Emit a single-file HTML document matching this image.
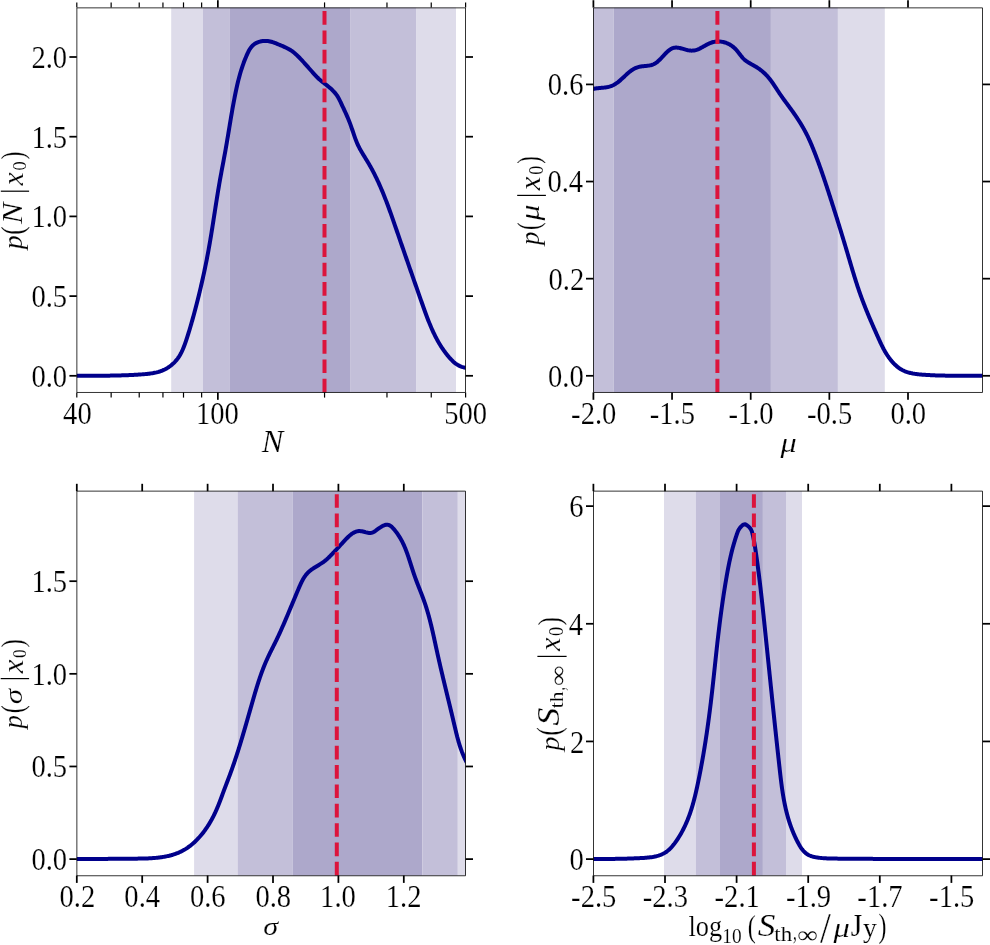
<!DOCTYPE html><html><head><meta charset="utf-8"><style>html,body{margin:0;padding:0;background:#fff;}svg{display:block;}text{font-family:"Liberation Serif",serif;fill:#000;stroke:#fff;stroke-width:0.6;}#fig{will-change:transform;}</style></head><body>
<svg id="fig" width="990" height="945" viewBox="0 0 990 945">
<rect width="990" height="945" fill="#fff"/>
<rect x="171.20" y="7.60" width="31.70" height="384.80" fill="#dedcea"/>
<rect x="202.90" y="7.60" width="27.00" height="384.80" fill="#c3bfd9"/>
<rect x="229.90" y="7.60" width="120.20" height="384.80" fill="#ada8cb"/>
<rect x="350.10" y="7.60" width="66.40" height="384.80" fill="#c3bfd9"/>
<rect x="416.50" y="7.60" width="39.50" height="384.80" fill="#dedcea"/>
<rect x="593.40" y="7.60" width="20.30" height="384.80" fill="#c3bfd9"/>
<rect x="613.70" y="7.60" width="157.20" height="384.80" fill="#ada8cb"/>
<rect x="770.90" y="7.60" width="67.00" height="384.80" fill="#c3bfd9"/>
<rect x="837.90" y="7.60" width="46.90" height="384.80" fill="#dedcea"/>
<rect x="194.10" y="491.20" width="43.50" height="384.30" fill="#dedcea"/>
<rect x="237.60" y="491.20" width="55.20" height="384.30" fill="#c3bfd9"/>
<rect x="292.80" y="491.20" width="129.60" height="384.30" fill="#ada8cb"/>
<rect x="422.40" y="491.20" width="35.40" height="384.30" fill="#c3bfd9"/>
<rect x="457.80" y="491.20" width="7.80" height="384.30" fill="#dedcea"/>
<rect x="664.00" y="491.20" width="31.80" height="384.30" fill="#dedcea"/>
<rect x="695.80" y="491.20" width="24.20" height="384.30" fill="#c3bfd9"/>
<rect x="720.00" y="491.20" width="42.90" height="384.30" fill="#ada8cb"/>
<rect x="762.90" y="491.20" width="23.10" height="384.30" fill="#c3bfd9"/>
<rect x="786.00" y="491.20" width="16.00" height="384.30" fill="#dedcea"/>
<clipPath id="c0"><rect x="76.80" y="7.60" width="388.80" height="384.80"/></clipPath>
<path d="M75.00,375.70 L76.09,375.70 L77.17,375.70 L78.25,375.70 L79.33,375.70 L80.40,375.70 L81.47,375.70 L82.54,375.70 L83.60,375.70 L84.67,375.70 L85.73,375.70 L86.78,375.70 L87.84,375.71 L88.89,375.71 L89.94,375.71 L90.99,375.71 L92.04,375.71 L93.08,375.71 L94.13,375.71 L95.17,375.71 L96.21,375.71 L97.25,375.71 L98.29,375.70 L99.32,375.70 L100.36,375.70 L101.39,375.69 L102.42,375.69 L103.45,375.68 L104.48,375.68 L105.51,375.67 L106.54,375.66 L107.57,375.65 L108.60,375.64 L109.63,375.63 L110.66,375.61 L111.68,375.60 L112.71,375.58 L113.74,375.56 L114.76,375.55 L115.79,375.53 L116.82,375.50 L117.84,375.48 L118.87,375.45 L119.90,375.43 L120.93,375.40 L121.96,375.37 L122.99,375.34 L124.02,375.30 L125.05,375.27 L126.09,375.23 L127.12,375.19 L128.15,375.14 L129.19,375.10 L130.23,375.05 L131.27,375.00 L132.31,374.95 L133.35,374.90 L134.40,374.84 L135.44,374.78 L136.49,374.72 L137.54,374.66 L138.59,374.59 L139.64,374.52 L140.70,374.45 L141.76,374.37 L142.82,374.29 L143.88,374.21 L144.95,374.12 L146.01,374.03 L147.08,373.92 L148.14,373.81 L149.20,373.68 L150.26,373.54 L151.32,373.39 L152.38,373.22 L153.44,373.04 L154.48,372.83 L155.53,372.61 L156.57,372.37 L157.61,372.10 L158.64,371.81 L159.66,371.49 L160.67,371.15 L161.68,370.77 L162.68,370.37 L163.67,369.94 L164.65,369.48 L165.62,368.98 L166.58,368.44 L167.53,367.87 L168.46,367.28 L169.38,366.65 L170.28,365.99 L171.17,365.30 L172.03,364.59 L172.87,363.85 L173.68,363.09 L174.47,362.31 L175.23,361.50 L175.96,360.68 L176.67,359.85 L177.34,358.99 L177.98,358.12 L178.59,357.24 L179.18,356.34 L179.74,355.43 L180.28,354.51 L180.79,353.58 L181.29,352.64 L181.76,351.69 L182.21,350.73 L182.65,349.76 L183.07,348.79 L183.48,347.81 L183.87,346.83 L184.25,345.84 L184.61,344.85 L184.97,343.85 L185.32,342.86 L185.67,341.86 L186.00,340.87 L186.34,339.87 L186.66,338.88 L186.99,337.88 L187.31,336.89 L187.63,335.90 L187.94,334.91 L188.25,333.92 L188.56,332.93 L188.87,331.95 L189.17,330.96 L189.47,329.97 L189.76,328.99 L190.06,328.00 L190.35,327.01 L190.64,326.03 L190.92,325.04 L191.21,324.06 L191.49,323.07 L191.77,322.08 L192.05,321.10 L192.33,320.11 L192.60,319.12 L192.88,318.14 L193.15,317.15 L193.42,316.16 L193.69,315.17 L193.96,314.18 L194.23,313.18 L194.49,312.19 L194.76,311.20 L195.02,310.20 L195.29,309.21 L195.55,308.21 L195.81,307.21 L196.07,306.21 L196.33,305.21 L196.59,304.21 L196.85,303.21 L197.10,302.21 L197.36,301.21 L197.61,300.20 L197.86,299.20 L198.11,298.19 L198.36,297.19 L198.61,296.18 L198.86,295.17 L199.11,294.17 L199.35,293.16 L199.60,292.15 L199.84,291.14 L200.08,290.13 L200.32,289.12 L200.56,288.10 L200.80,287.09 L201.04,286.08 L201.27,285.06 L201.51,284.05 L201.74,283.03 L201.97,282.02 L202.20,281.00 L202.43,279.98 L202.66,278.96 L202.88,277.95 L203.11,276.93 L203.33,275.91 L203.56,274.89 L203.78,273.87 L204.00,272.84 L204.22,271.82 L204.43,270.80 L204.65,269.78 L204.86,268.76 L205.08,267.73 L205.29,266.71 L205.50,265.68 L205.71,264.66 L205.91,263.63 L206.12,262.61 L206.33,261.58 L206.53,260.55 L206.73,259.53 L206.93,258.50 L207.13,257.47 L207.33,256.44 L207.52,255.42 L207.72,254.39 L207.91,253.36 L208.10,252.33 L208.29,251.30 L208.48,250.27 L208.67,249.24 L208.85,248.21 L209.04,247.18 L209.22,246.15 L209.40,245.12 L209.58,244.09 L209.76,243.06 L209.94,242.02 L210.12,240.99 L210.29,239.96 L210.47,238.93 L210.64,237.90 L210.81,236.86 L210.98,235.83 L211.15,234.80 L211.32,233.77 L211.49,232.73 L211.66,231.70 L211.82,230.67 L211.99,229.63 L212.16,228.60 L212.32,227.57 L212.49,226.53 L212.65,225.50 L212.81,224.47 L212.97,223.43 L213.14,222.40 L213.30,221.37 L213.46,220.33 L213.62,219.30 L213.78,218.27 L213.94,217.24 L214.10,216.20 L214.26,215.17 L214.42,214.14 L214.59,213.10 L214.75,212.07 L214.91,211.04 L215.07,210.01 L215.23,208.97 L215.39,207.94 L215.55,206.91 L215.71,205.88 L215.87,204.85 L216.03,203.82 L216.19,202.79 L216.36,201.76 L216.52,200.72 L216.68,199.69 L216.85,198.66 L217.01,197.63 L217.18,196.60 L217.34,195.58 L217.51,194.55 L217.68,193.52 L217.84,192.49 L218.01,191.46 L218.18,190.43 L218.35,189.41 L218.53,188.38 L218.70,187.35 L218.87,186.33 L219.05,185.30 L219.22,184.28 L219.40,183.25 L219.58,182.23 L219.76,181.20 L219.94,180.18 L220.12,179.16 L220.30,178.13 L220.49,177.11 L220.67,176.09 L220.86,175.07 L221.05,174.05 L221.24,173.03 L221.43,172.00 L221.62,170.98 L221.81,169.96 L222.00,168.94 L222.19,167.92 L222.38,166.90 L222.58,165.88 L222.77,164.86 L222.96,163.84 L223.15,162.82 L223.35,161.80 L223.54,160.77 L223.73,159.75 L223.92,158.73 L224.11,157.71 L224.30,156.68 L224.49,155.66 L224.68,154.63 L224.87,153.61 L225.06,152.58 L225.24,151.55 L225.43,150.53 L225.61,149.50 L225.79,148.47 L225.97,147.44 L226.16,146.41 L226.33,145.38 L226.51,144.34 L226.69,143.31 L226.87,142.28 L227.04,141.25 L227.22,140.21 L227.39,139.18 L227.56,138.14 L227.74,137.11 L227.91,136.07 L228.08,135.04 L228.25,134.00 L228.43,132.96 L228.60,131.93 L228.77,130.89 L228.94,129.86 L229.11,128.82 L229.28,127.79 L229.45,126.75 L229.62,125.71 L229.79,124.68 L229.96,123.64 L230.13,122.61 L230.31,121.58 L230.48,120.54 L230.65,119.51 L230.82,118.48 L231.00,117.45 L231.17,116.41 L231.35,115.38 L231.52,114.35 L231.70,113.33 L231.88,112.30 L232.06,111.27 L232.24,110.24 L232.42,109.22 L232.60,108.19 L232.78,107.17 L232.97,106.15 L233.15,105.13 L233.34,104.11 L233.53,103.09 L233.72,102.07 L233.91,101.06 L234.10,100.04 L234.30,99.03 L234.49,98.02 L234.69,97.01 L234.89,96.00 L235.09,94.99 L235.30,93.99 L235.50,92.99 L235.71,91.98 L235.92,90.98 L236.14,89.99 L236.35,88.99 L236.57,88.00 L236.79,87.00 L237.01,86.02 L237.23,85.03 L237.46,84.04 L237.69,83.06 L237.93,82.07 L238.17,81.09 L238.41,80.11 L238.66,79.12 L238.91,78.14 L239.17,77.16 L239.44,76.18 L239.71,75.20 L239.98,74.21 L240.26,73.23 L240.55,72.25 L240.85,71.26 L241.15,70.28 L241.46,69.29 L241.78,68.30 L242.11,67.30 L242.44,66.31 L242.78,65.31 L243.14,64.31 L243.50,63.31 L243.87,62.31 L244.25,61.30 L244.64,60.28 L245.04,59.27 L245.46,58.25 L245.88,57.22 L246.31,56.20 L246.76,55.16 L247.22,54.12 L247.69,53.09 L248.19,52.05 L248.71,51.03 L249.26,50.03 L249.85,49.05 L250.49,48.10 L251.17,47.19 L251.90,46.31 L252.70,45.49 L253.56,44.73 L254.49,44.02 L255.49,43.38 L256.58,42.82 L257.72,42.33 L258.92,41.91 L260.16,41.56 L261.43,41.29 L262.71,41.09 L264.00,40.97 L265.28,40.92 L266.53,40.95 L267.76,41.05 L268.95,41.21 L270.11,41.44 L271.25,41.72 L272.36,42.04 L273.45,42.40 L274.53,42.79 L275.59,43.21 L276.63,43.63 L277.67,44.06 L278.70,44.49 L279.72,44.91 L280.74,45.33 L281.75,45.76 L282.75,46.19 L283.74,46.62 L284.72,47.06 L285.69,47.52 L286.65,47.99 L287.60,48.47 L288.54,48.97 L289.47,49.50 L290.38,50.05 L291.28,50.62 L292.16,51.23 L293.03,51.86 L293.89,52.53 L294.73,53.22 L295.55,53.93 L296.37,54.67 L297.17,55.43 L297.96,56.19 L298.74,56.97 L299.50,57.76 L300.26,58.56 L301.01,59.36 L301.74,60.15 L302.47,60.94 L303.19,61.74 L303.90,62.52 L304.61,63.31 L305.31,64.09 L306.01,64.87 L306.70,65.65 L307.38,66.43 L308.07,67.20 L308.75,67.97 L309.43,68.74 L310.11,69.51 L310.78,70.27 L311.46,71.03 L312.14,71.79 L312.82,72.54 L313.51,73.30 L314.19,74.05 L314.89,74.79 L315.58,75.54 L316.28,76.28 L316.99,77.02 L317.71,77.75 L318.44,78.48 L319.19,79.19 L319.96,79.88 L320.75,80.56 L321.56,81.23 L322.39,81.88 L323.23,82.53 L324.08,83.17 L324.93,83.82 L325.78,84.47 L326.63,85.14 L327.48,85.81 L328.31,86.48 L329.14,87.17 L329.96,87.87 L330.76,88.59 L331.55,89.31 L332.33,90.05 L333.08,90.81 L333.82,91.58 L334.53,92.37 L335.22,93.17 L335.88,94.00 L336.51,94.84 L337.11,95.70 L337.68,96.59 L338.22,97.49 L338.74,98.41 L339.23,99.35 L339.70,100.29 L340.16,101.25 L340.62,102.21 L341.07,103.17 L341.51,104.13 L341.96,105.09 L342.41,106.05 L342.86,107.01 L343.31,107.96 L343.76,108.92 L344.21,109.88 L344.65,110.83 L345.09,111.79 L345.53,112.74 L345.97,113.70 L346.40,114.66 L346.83,115.62 L347.25,116.58 L347.67,117.54 L348.08,118.50 L348.48,119.47 L348.88,120.44 L349.27,121.41 L349.65,122.38 L350.02,123.36 L350.39,124.34 L350.74,125.32 L351.09,126.30 L351.43,127.29 L351.77,128.28 L352.11,129.26 L352.44,130.25 L352.77,131.24 L353.10,132.23 L353.43,133.22 L353.76,134.21 L354.10,135.19 L354.44,136.18 L354.78,137.16 L355.13,138.13 L355.49,139.11 L355.86,140.08 L356.24,141.04 L356.63,142.00 L357.03,142.96 L357.44,143.91 L357.87,144.85 L358.32,145.78 L358.78,146.71 L359.25,147.64 L359.73,148.56 L360.23,149.47 L360.74,150.38 L361.25,151.28 L361.78,152.19 L362.31,153.09 L362.84,153.98 L363.39,154.88 L363.93,155.77 L364.48,156.66 L365.03,157.56 L365.58,158.45 L366.13,159.34 L366.68,160.23 L367.23,161.13 L367.77,162.03 L368.31,162.93 L368.84,163.83 L369.37,164.74 L369.89,165.65 L370.40,166.56 L370.91,167.48 L371.42,168.39 L371.92,169.31 L372.42,170.24 L372.91,171.16 L373.39,172.09 L373.88,173.02 L374.35,173.95 L374.83,174.89 L375.29,175.83 L375.76,176.77 L376.21,177.71 L376.67,178.65 L377.12,179.60 L377.57,180.55 L378.01,181.50 L378.45,182.45 L378.88,183.41 L379.31,184.36 L379.74,185.32 L380.16,186.28 L380.58,187.24 L381.00,188.21 L381.41,189.17 L381.82,190.14 L382.23,191.11 L382.63,192.08 L383.03,193.05 L383.42,194.02 L383.82,194.99 L384.21,195.97 L384.60,196.94 L384.98,197.92 L385.37,198.90 L385.75,199.88 L386.12,200.86 L386.50,201.84 L386.87,202.82 L387.24,203.81 L387.61,204.79 L387.98,205.78 L388.34,206.76 L388.71,207.75 L389.07,208.73 L389.43,209.72 L389.78,210.71 L390.14,211.70 L390.49,212.69 L390.85,213.68 L391.20,214.67 L391.55,215.66 L391.90,216.65 L392.24,217.64 L392.59,218.63 L392.94,219.62 L393.28,220.61 L393.62,221.60 L393.97,222.59 L394.31,223.58 L394.65,224.57 L394.99,225.56 L395.33,226.55 L395.68,227.54 L396.02,228.53 L396.36,229.51 L396.70,230.50 L397.04,231.49 L397.38,232.48 L397.72,233.46 L398.06,234.45 L398.39,235.43 L398.73,236.42 L399.07,237.40 L399.41,238.39 L399.75,239.37 L400.09,240.35 L400.43,241.34 L400.77,242.32 L401.11,243.30 L401.45,244.28 L401.79,245.27 L402.13,246.25 L402.47,247.23 L402.81,248.21 L403.15,249.19 L403.49,250.17 L403.83,251.15 L404.17,252.13 L404.51,253.11 L404.85,254.09 L405.19,255.07 L405.53,256.05 L405.87,257.03 L406.21,258.01 L406.55,258.99 L406.89,259.97 L407.23,260.95 L407.57,261.93 L407.91,262.91 L408.25,263.89 L408.59,264.87 L408.93,265.85 L409.27,266.83 L409.62,267.81 L409.96,268.79 L410.30,269.77 L410.64,270.75 L410.98,271.73 L411.32,272.71 L411.67,273.69 L412.01,274.67 L412.35,275.65 L412.69,276.63 L413.04,277.61 L413.38,278.59 L413.72,279.58 L414.07,280.56 L414.41,281.54 L414.75,282.52 L415.10,283.51 L415.44,284.49 L415.79,285.48 L416.13,286.46 L416.48,287.45 L416.82,288.43 L417.17,289.42 L417.52,290.40 L417.86,291.39 L418.21,292.38 L418.55,293.37 L418.90,294.35 L419.25,295.34 L419.60,296.33 L419.94,297.32 L420.29,298.31 L420.64,299.31 L420.99,300.30 L421.34,301.29 L421.69,302.28 L422.04,303.28 L422.39,304.27 L422.74,305.27 L423.09,306.26 L423.44,307.26 L423.80,308.26 L424.15,309.25 L424.51,310.25 L424.87,311.24 L425.23,312.24 L425.59,313.23 L425.96,314.23 L426.33,315.22 L426.70,316.21 L427.07,317.20 L427.45,318.19 L427.83,319.18 L428.21,320.17 L428.60,321.15 L428.99,322.14 L429.38,323.12 L429.78,324.10 L430.19,325.07 L430.59,326.05 L431.01,327.02 L431.43,327.99 L431.85,328.95 L432.28,329.92 L432.72,330.88 L433.16,331.84 L433.60,332.79 L434.06,333.74 L434.52,334.69 L434.98,335.63 L435.46,336.57 L435.94,337.50 L436.43,338.43 L436.92,339.36 L437.42,340.28 L437.94,341.20 L438.45,342.11 L438.98,343.02 L439.52,343.92 L440.06,344.82 L440.61,345.71 L441.18,346.60 L441.75,347.48 L442.33,348.36 L442.92,349.23 L443.52,350.09 L444.13,350.95 L444.75,351.80 L445.38,352.65 L446.02,353.48 L446.67,354.32 L447.34,355.14 L448.01,355.96 L448.70,356.77 L449.39,357.58 L450.10,358.37 L450.82,359.16 L451.56,359.94 L452.32,360.70 L453.09,361.45 L453.90,362.18 L454.73,362.88 L455.60,363.55 L456.51,364.19 L457.46,364.80 L458.46,365.37 L459.50,365.89 L460.61,366.37 L461.77,366.79 L462.99,367.17 L464.28,367.48 L465.64,367.74 L467.07,367.93" fill="none" stroke="#00008b" stroke-width="4.0" stroke-linejoin="round" clip-path="url(#c0)"/>
<clipPath id="c1"><rect x="593.40" y="7.60" width="389.20" height="384.80"/></clipPath>
<path d="M592.10,89.28 L592.81,89.07 L593.54,88.89 L594.29,88.73 L595.05,88.58 L595.82,88.46 L596.61,88.35 L597.40,88.25 L598.21,88.16 L599.02,88.08 L599.83,88.00 L600.65,87.93 L601.47,87.86 L602.29,87.78 L603.10,87.70 L603.92,87.62 L604.73,87.52 L605.54,87.42 L606.33,87.29 L607.12,87.16 L607.90,87.00 L608.67,86.82 L609.42,86.62 L610.16,86.40 L610.88,86.14 L611.59,85.87 L612.29,85.57 L612.97,85.26 L613.64,84.92 L614.30,84.56 L614.95,84.18 L615.59,83.79 L616.23,83.38 L616.85,82.95 L617.46,82.51 L618.07,82.06 L618.67,81.59 L619.26,81.11 L619.85,80.62 L620.44,80.12 L621.01,79.62 L621.59,79.10 L622.16,78.58 L622.73,78.05 L623.30,77.52 L623.87,76.98 L624.43,76.45 L625.00,75.91 L625.57,75.38 L626.13,74.85 L626.71,74.33 L627.28,73.81 L627.86,73.29 L628.44,72.79 L629.03,72.29 L629.62,71.81 L630.22,71.34 L630.83,70.88 L631.45,70.43 L632.07,70.01 L632.70,69.59 L633.35,69.20 L634.00,68.83 L634.66,68.48 L635.34,68.15 L636.03,67.85 L636.73,67.57 L637.45,67.32 L638.18,67.10 L638.93,66.90 L639.69,66.73 L640.46,66.59 L641.24,66.46 L642.03,66.35 L642.83,66.25 L643.63,66.16 L644.43,66.08 L645.23,66.00 L646.04,65.91 L646.83,65.83 L647.63,65.73 L648.42,65.62 L649.19,65.50 L649.96,65.35 L650.72,65.19 L651.46,65.00 L652.18,64.77 L652.89,64.52 L653.57,64.23 L654.24,63.91 L654.89,63.55 L655.53,63.17 L656.15,62.76 L656.75,62.32 L657.35,61.85 L657.93,61.37 L658.50,60.86 L659.07,60.34 L659.63,59.80 L660.18,59.24 L660.73,58.68 L661.27,58.10 L661.82,57.51 L662.36,56.92 L662.91,56.33 L663.45,55.73 L664.00,55.13 L664.56,54.53 L665.12,53.94 L665.69,53.35 L666.26,52.77 L666.85,52.20 L667.45,51.65 L668.06,51.10 L668.68,50.58 L669.32,50.08 L669.97,49.61 L670.64,49.18 L671.32,48.79 L672.02,48.44 L672.73,48.15 L673.46,47.92 L674.21,47.75 L674.98,47.64 L675.76,47.59 L676.55,47.60 L677.36,47.65 L678.17,47.75 L679.00,47.89 L679.83,48.06 L680.66,48.25 L681.49,48.47 L682.33,48.69 L683.16,48.93 L683.98,49.17 L684.80,49.41 L685.62,49.64 L686.42,49.85 L687.21,50.05 L687.98,50.22 L688.74,50.36 L689.49,50.47 L690.22,50.56 L690.95,50.61 L691.66,50.63 L692.37,50.62 L693.07,50.58 L693.77,50.51 L694.47,50.40 L695.16,50.26 L695.86,50.09 L696.55,49.89 L697.26,49.65 L697.96,49.37 L698.67,49.06 L699.39,48.73 L700.11,48.37 L700.84,47.99 L701.57,47.59 L702.31,47.17 L703.06,46.75 L703.81,46.32 L704.57,45.89 L705.33,45.46 L706.10,45.03 L706.88,44.62 L707.66,44.21 L708.44,43.82 L709.24,43.45 L710.04,43.11 L710.85,42.79 L711.66,42.51 L712.48,42.26 L713.30,42.04 L714.13,41.86 L714.96,41.72 L715.80,41.61 L716.64,41.53 L717.47,41.49 L718.31,41.48 L719.14,41.50 L719.97,41.55 L720.80,41.63 L721.62,41.74 L722.43,41.88 L723.24,42.04 L724.04,42.24 L724.83,42.46 L725.61,42.71 L726.38,42.99 L727.14,43.29 L727.89,43.62 L728.63,43.97 L729.36,44.35 L730.07,44.75 L730.78,45.18 L731.46,45.63 L732.14,46.10 L732.80,46.59 L733.44,47.11 L734.07,47.65 L734.68,48.21 L735.27,48.79 L735.84,49.39 L736.40,50.01 L736.95,50.64 L737.48,51.29 L738.00,51.94 L738.51,52.60 L739.02,53.27 L739.52,53.93 L740.03,54.59 L740.53,55.24 L741.04,55.89 L741.55,56.52 L742.07,57.14 L742.59,57.74 L743.13,58.32 L743.69,58.87 L744.26,59.40 L744.84,59.90 L745.43,60.39 L746.04,60.86 L746.65,61.30 L747.27,61.74 L747.90,62.16 L748.54,62.56 L749.19,62.96 L749.83,63.34 L750.49,63.72 L751.14,64.10 L751.80,64.46 L752.46,64.83 L753.12,65.20 L753.78,65.57 L754.43,65.94 L755.09,66.31 L755.74,66.69 L756.38,67.08 L757.02,67.48 L757.65,67.89 L758.27,68.30 L758.89,68.73 L759.50,69.17 L760.11,69.61 L760.71,70.07 L761.30,70.53 L761.88,71.00 L762.46,71.48 L763.03,71.97 L763.60,72.47 L764.15,72.98 L764.70,73.50 L765.24,74.02 L765.78,74.55 L766.30,75.09 L766.82,75.64 L767.33,76.20 L767.83,76.76 L768.33,77.33 L768.81,77.91 L769.29,78.50 L769.77,79.09 L770.23,79.69 L770.69,80.29 L771.15,80.90 L771.60,81.51 L772.04,82.13 L772.48,82.75 L772.92,83.37 L773.35,84.00 L773.77,84.63 L774.20,85.27 L774.62,85.90 L775.04,86.54 L775.46,87.18 L775.88,87.81 L776.29,88.45 L776.71,89.09 L777.12,89.73 L777.53,90.36 L777.95,91.00 L778.36,91.63 L778.78,92.26 L779.20,92.89 L779.62,93.51 L780.04,94.13 L780.46,94.75 L780.89,95.36 L781.31,95.98 L781.74,96.59 L782.17,97.19 L782.60,97.80 L783.03,98.40 L783.47,99.00 L783.90,99.60 L784.34,100.20 L784.78,100.80 L785.21,101.40 L785.65,101.99 L786.09,102.58 L786.53,103.18 L786.97,103.77 L787.41,104.37 L787.85,104.96 L788.28,105.55 L788.72,106.15 L789.16,106.74 L789.60,107.34 L790.04,107.93 L790.48,108.53 L790.91,109.13 L791.35,109.73 L791.78,110.33 L792.22,110.94 L792.65,111.54 L793.08,112.15 L793.51,112.76 L793.94,113.37 L794.37,113.99 L794.80,114.60 L795.22,115.22 L795.64,115.84 L796.06,116.46 L796.48,117.08 L796.90,117.71 L797.32,118.34 L797.73,118.97 L798.14,119.60 L798.55,120.23 L798.96,120.87 L799.36,121.51 L799.76,122.14 L800.16,122.79 L800.56,123.43 L800.95,124.07 L801.34,124.72 L801.73,125.37 L802.12,126.02 L802.50,126.67 L802.88,127.32 L803.26,127.98 L803.63,128.64 L804.00,129.29 L804.37,129.95 L804.73,130.62 L805.09,131.28 L805.44,131.95 L805.80,132.61 L806.14,133.28 L806.49,133.95 L806.83,134.63 L807.17,135.30 L807.50,135.98 L807.83,136.65 L808.15,137.33 L808.47,138.01 L808.79,138.69 L809.11,139.38 L809.42,140.06 L809.73,140.75 L810.03,141.43 L810.33,142.12 L810.63,142.81 L810.93,143.50 L811.23,144.19 L811.52,144.88 L811.81,145.57 L812.10,146.27 L812.38,146.96 L812.67,147.66 L812.95,148.35 L813.23,149.05 L813.51,149.74 L813.79,150.44 L814.07,151.14 L814.34,151.84 L814.62,152.54 L814.89,153.23 L815.16,153.93 L815.43,154.63 L815.70,155.33 L815.97,156.03 L816.24,156.73 L816.50,157.43 L816.77,158.14 L817.03,158.84 L817.30,159.54 L817.56,160.24 L817.82,160.95 L818.08,161.65 L818.34,162.35 L818.60,163.06 L818.85,163.76 L819.11,164.47 L819.36,165.17 L819.62,165.88 L819.87,166.58 L820.12,167.29 L820.38,167.99 L820.63,168.70 L820.88,169.41 L821.13,170.11 L821.37,170.82 L821.62,171.53 L821.87,172.24 L822.11,172.95 L822.36,173.65 L822.60,174.36 L822.85,175.07 L823.09,175.78 L823.33,176.49 L823.58,177.20 L823.82,177.91 L824.06,178.62 L824.30,179.33 L824.54,180.04 L824.78,180.76 L825.02,181.47 L825.25,182.18 L825.49,182.89 L825.73,183.60 L825.96,184.31 L826.20,185.03 L826.43,185.74 L826.67,186.45 L826.90,187.17 L827.14,187.88 L827.37,188.59 L827.61,189.31 L827.84,190.02 L828.07,190.73 L828.30,191.45 L828.54,192.16 L828.77,192.88 L829.00,193.59 L829.23,194.30 L829.46,195.02 L829.69,195.73 L829.92,196.45 L830.15,197.16 L830.38,197.88 L830.61,198.60 L830.84,199.31 L831.07,200.03 L831.30,200.74 L831.53,201.46 L831.76,202.17 L831.99,202.89 L832.22,203.61 L832.44,204.32 L832.67,205.04 L832.90,205.76 L833.13,206.47 L833.36,207.19 L833.58,207.91 L833.81,208.62 L834.04,209.34 L834.26,210.06 L834.49,210.78 L834.72,211.49 L834.94,212.21 L835.17,212.93 L835.39,213.65 L835.62,214.36 L835.84,215.08 L836.07,215.80 L836.29,216.52 L836.52,217.24 L836.74,217.95 L836.97,218.67 L837.19,219.39 L837.42,220.11 L837.64,220.83 L837.86,221.55 L838.09,222.27 L838.31,222.99 L838.53,223.71 L838.75,224.42 L838.98,225.14 L839.20,225.86 L839.42,226.58 L839.64,227.30 L839.86,228.02 L840.08,228.74 L840.30,229.46 L840.53,230.18 L840.75,230.90 L840.97,231.62 L841.19,232.34 L841.41,233.06 L841.63,233.78 L841.85,234.50 L842.07,235.22 L842.28,235.94 L842.50,236.66 L842.72,237.38 L842.94,238.10 L843.16,238.82 L843.38,239.54 L843.59,240.26 L843.81,240.99 L844.03,241.71 L844.25,242.43 L844.46,243.15 L844.68,243.87 L844.90,244.59 L845.11,245.31 L845.33,246.03 L845.55,246.75 L845.76,247.47 L845.98,248.20 L846.19,248.92 L846.41,249.64 L846.62,250.36 L846.84,251.08 L847.05,251.80 L847.27,252.52 L847.48,253.25 L847.69,253.97 L847.91,254.69 L848.12,255.41 L848.33,256.13 L848.55,256.85 L848.76,257.58 L848.97,258.30 L849.19,259.02 L849.40,259.74 L849.61,260.46 L849.82,261.18 L850.04,261.91 L850.25,262.63 L850.46,263.35 L850.68,264.07 L850.89,264.79 L851.10,265.51 L851.32,266.23 L851.53,266.95 L851.75,267.67 L851.96,268.39 L852.18,269.12 L852.39,269.84 L852.61,270.55 L852.82,271.27 L853.04,271.99 L853.26,272.71 L853.48,273.43 L853.70,274.15 L853.92,274.87 L854.14,275.59 L854.36,276.30 L854.58,277.02 L854.80,277.74 L855.03,278.45 L855.25,279.17 L855.48,279.89 L855.70,280.60 L855.93,281.32 L856.16,282.03 L856.39,282.75 L856.62,283.46 L856.85,284.17 L857.08,284.89 L857.31,285.60 L857.55,286.31 L857.79,287.02 L858.02,287.73 L858.26,288.44 L858.50,289.15 L858.74,289.86 L858.99,290.57 L859.23,291.28 L859.48,291.99 L859.72,292.69 L859.97,293.40 L860.22,294.11 L860.47,294.81 L860.73,295.52 L860.98,296.22 L861.24,296.92 L861.50,297.63 L861.76,298.33 L862.02,299.03 L862.28,299.73 L862.54,300.43 L862.81,301.13 L863.07,301.83 L863.34,302.53 L863.61,303.23 L863.88,303.93 L864.15,304.63 L864.42,305.33 L864.69,306.03 L864.97,306.72 L865.24,307.42 L865.52,308.12 L865.80,308.81 L866.08,309.51 L866.36,310.20 L866.64,310.90 L866.92,311.59 L867.21,312.29 L867.49,312.98 L867.78,313.68 L868.07,314.37 L868.35,315.07 L868.64,315.76 L868.93,316.45 L869.22,317.15 L869.52,317.84 L869.81,318.53 L870.10,319.23 L870.40,319.92 L870.69,320.61 L870.99,321.30 L871.29,322.00 L871.59,322.69 L871.88,323.38 L872.18,324.07 L872.49,324.77 L872.79,325.46 L873.09,326.15 L873.39,326.84 L873.69,327.54 L874.00,328.23 L874.30,328.92 L874.61,329.61 L874.92,330.31 L875.22,331.00 L875.53,331.69 L875.84,332.38 L876.15,333.08 L876.46,333.77 L876.76,334.46 L877.07,335.16 L877.39,335.85 L877.70,336.54 L878.01,337.24 L878.32,337.93 L878.63,338.63 L878.95,339.32 L879.26,340.02 L879.58,340.71 L879.90,341.40 L880.22,342.10 L880.54,342.79 L880.87,343.48 L881.19,344.17 L881.53,344.86 L881.86,345.55 L882.20,346.23 L882.54,346.92 L882.89,347.60 L883.25,348.28 L883.60,348.96 L883.97,349.64 L884.34,350.31 L884.71,350.98 L885.09,351.65 L885.48,352.32 L885.88,352.98 L886.28,353.64 L886.69,354.29 L887.11,354.95 L887.53,355.60 L887.97,356.24 L888.41,356.88 L888.86,357.52 L889.33,358.15 L889.80,358.78 L890.28,359.41 L890.77,360.03 L891.27,360.64 L891.79,361.25 L892.31,361.86 L892.84,362.46 L893.39,363.05 L893.95,363.63 L894.52,364.21 L895.10,364.77 L895.69,365.32 L896.29,365.86 L896.90,366.39 L897.52,366.90 L898.16,367.39 L898.80,367.87 L899.46,368.33 L900.12,368.77 L900.80,369.18 L901.48,369.58 L902.18,369.96 L902.89,370.32 L903.60,370.66 L904.32,370.98 L905.05,371.28 L905.79,371.57 L906.54,371.84 L907.29,372.09 L908.04,372.33 L908.81,372.55 L909.57,372.76 L910.35,372.96 L911.12,373.14 L911.90,373.31 L912.69,373.47 L913.47,373.61 L914.26,373.75 L915.05,373.88 L915.84,373.99 L916.63,374.10 L917.42,374.20 L918.21,374.29 L919.00,374.38 L919.79,374.45 L920.57,374.53 L921.36,374.59 L922.14,374.65 L922.92,374.71 L923.69,374.77 L924.47,374.82 L925.23,374.87 L925.99,374.91 L926.75,374.96 L927.50,375.00 L928.25,375.04 L928.99,375.08 L929.73,375.12 L930.46,375.16 L931.20,375.19 L931.92,375.23 L932.65,375.26 L933.37,375.29 L934.09,375.32 L934.81,375.35 L935.52,375.38 L936.24,375.40 L936.95,375.43 L937.66,375.45 L938.37,375.47 L939.08,375.49 L939.79,375.51 L940.49,375.53 L941.20,375.55 L941.91,375.56 L942.62,375.58 L943.33,375.59 L944.04,375.61 L944.75,375.62 L945.47,375.63 L946.18,375.64 L946.90,375.65 L947.62,375.66 L948.34,375.67 L949.06,375.68 L949.78,375.68 L950.51,375.69 L951.23,375.69 L951.96,375.70 L952.69,375.70 L953.42,375.71 L954.15,375.71 L954.89,375.71 L955.62,375.71 L956.36,375.71 L957.10,375.71 L957.84,375.71 L958.58,375.71 L959.33,375.71 L960.07,375.71 L960.82,375.71 L961.57,375.71 L962.32,375.71 L963.07,375.71 L963.82,375.71 L964.58,375.70 L965.34,375.70 L966.10,375.70 L966.86,375.70 L967.62,375.70 L968.38,375.69 L969.15,375.69 L969.91,375.69 L970.68,375.69 L971.45,375.69 L972.22,375.69 L973.00,375.68 L973.77,375.68 L974.55,375.68 L975.33,375.68 L976.10,375.68 L976.89,375.68 L977.67,375.68 L978.45,375.68 L979.24,375.69 L980.03,375.69 L980.82,375.69 L981.61,375.69 L982.40,375.70 L983.20,375.70 L983.99,375.71" fill="none" stroke="#00008b" stroke-width="4.0" stroke-linejoin="round" clip-path="url(#c1)"/>
<clipPath id="c2"><rect x="76.80" y="491.20" width="388.80" height="384.30"/></clipPath>
<path d="M74.77,858.86 L75.80,858.88 L76.83,858.89 L77.85,858.90 L78.86,858.91 L79.87,858.91 L80.88,858.92 L81.88,858.93 L82.87,858.93 L83.86,858.94 L84.85,858.94 L85.83,858.95 L86.81,858.95 L87.78,858.95 L88.75,858.95 L89.71,858.95 L90.67,858.96 L91.63,858.95 L92.58,858.95 L93.53,858.95 L94.48,858.95 L95.42,858.95 L96.36,858.94 L97.30,858.94 L98.24,858.94 L99.17,858.93 L100.10,858.93 L101.03,858.92 L101.96,858.92 L102.88,858.91 L103.81,858.90 L104.73,858.90 L105.65,858.89 L106.57,858.88 L107.49,858.88 L108.41,858.87 L109.33,858.86 L110.24,858.85 L111.16,858.84 L112.08,858.84 L112.99,858.83 L113.91,858.82 L114.82,858.81 L115.74,858.80 L116.66,858.79 L117.58,858.78 L118.49,858.78 L119.41,858.77 L120.34,858.76 L121.26,858.75 L122.18,858.74 L123.11,858.73 L124.03,858.72 L124.96,858.72 L125.89,858.71 L126.83,858.70 L127.76,858.69 L128.70,858.68 L129.64,858.68 L130.59,858.67 L131.53,858.66 L132.48,858.66 L133.43,858.65 L134.39,858.65 L135.35,858.64 L136.31,858.63 L137.28,858.63 L138.24,858.62 L139.21,858.61 L140.18,858.59 L141.16,858.58 L142.13,858.56 L143.11,858.54 L144.08,858.52 L145.06,858.49 L146.04,858.46 L147.02,858.43 L148.00,858.39 L148.98,858.35 L149.96,858.30 L150.94,858.24 L151.91,858.18 L152.89,858.12 L153.87,858.04 L154.84,857.96 L155.82,857.88 L156.79,857.78 L157.76,857.68 L158.73,857.57 L159.69,857.45 L160.66,857.32 L161.62,857.19 L162.58,857.04 L163.53,856.89 L164.48,856.72 L165.43,856.54 L166.38,856.36 L167.32,856.16 L168.25,855.95 L169.19,855.73 L170.11,855.49 L171.04,855.25 L171.95,854.99 L172.87,854.72 L173.77,854.43 L174.68,854.13 L175.57,853.82 L176.46,853.49 L177.35,853.15 L178.22,852.80 L179.09,852.42 L179.96,852.04 L180.81,851.63 L181.66,851.21 L182.51,850.77 L183.34,850.32 L184.17,849.85 L184.99,849.36 L185.80,848.86 L186.60,848.34 L187.40,847.81 L188.19,847.26 L188.97,846.70 L189.74,846.13 L190.51,845.54 L191.26,844.93 L192.01,844.32 L192.75,843.69 L193.48,843.05 L194.21,842.40 L194.93,841.73 L195.63,841.05 L196.33,840.37 L197.03,839.67 L197.71,838.96 L198.39,838.24 L199.05,837.51 L199.71,836.78 L200.36,836.03 L201.01,835.27 L201.64,834.51 L202.27,833.74 L202.88,832.96 L203.49,832.17 L204.09,831.38 L204.68,830.58 L205.27,829.77 L205.84,828.96 L206.40,828.14 L206.96,827.32 L207.51,826.49 L208.05,825.66 L208.58,824.82 L209.10,823.98 L209.61,823.14 L210.12,822.29 L210.61,821.44 L211.10,820.58 L211.58,819.73 L212.04,818.87 L212.50,818.01 L212.95,817.15 L213.39,816.29 L213.83,815.43 L214.25,814.57 L214.66,813.70 L215.07,812.84 L215.47,811.97 L215.86,811.11 L216.25,810.24 L216.63,809.38 L217.00,808.51 L217.37,807.64 L217.73,806.77 L218.09,805.90 L218.44,805.03 L218.79,804.16 L219.13,803.29 L219.47,802.42 L219.81,801.55 L220.14,800.68 L220.47,799.80 L220.80,798.93 L221.13,798.05 L221.46,797.18 L221.78,796.30 L222.11,795.43 L222.43,794.55 L222.75,793.67 L223.08,792.79 L223.41,791.91 L223.73,791.03 L224.06,790.15 L224.39,789.27 L224.72,788.39 L225.06,787.51 L225.39,786.62 L225.73,785.74 L226.06,784.86 L226.40,783.97 L226.74,783.09 L227.07,782.20 L227.41,781.32 L227.75,780.43 L228.09,779.54 L228.42,778.65 L228.76,777.77 L229.09,776.88 L229.43,775.99 L229.76,775.10 L230.09,774.21 L230.42,773.32 L230.74,772.42 L231.07,771.53 L231.39,770.64 L231.71,769.75 L232.03,768.85 L232.34,767.96 L232.66,767.07 L232.97,766.17 L233.28,765.27 L233.59,764.38 L233.90,763.48 L234.21,762.59 L234.51,761.69 L234.81,760.79 L235.11,759.89 L235.41,758.99 L235.71,758.10 L236.01,757.20 L236.30,756.30 L236.60,755.40 L236.89,754.50 L237.18,753.60 L237.47,752.69 L237.76,751.79 L238.05,750.89 L238.33,749.99 L238.62,749.08 L238.90,748.18 L239.18,747.28 L239.46,746.37 L239.74,745.47 L240.02,744.57 L240.30,743.66 L240.58,742.76 L240.85,741.85 L241.13,740.94 L241.40,740.04 L241.68,739.13 L241.95,738.22 L242.22,737.32 L242.49,736.41 L242.76,735.50 L243.03,734.60 L243.30,733.69 L243.56,732.78 L243.83,731.87 L244.10,730.96 L244.36,730.05 L244.63,729.14 L244.89,728.23 L245.16,727.32 L245.42,726.41 L245.69,725.50 L245.95,724.59 L246.21,723.68 L246.47,722.77 L246.73,721.86 L247.00,720.95 L247.26,720.04 L247.52,719.13 L247.78,718.21 L248.04,717.30 L248.30,716.39 L248.56,715.48 L248.82,714.56 L249.08,713.65 L249.34,712.74 L249.60,711.83 L249.86,710.91 L250.12,710.00 L250.38,709.09 L250.65,708.17 L250.91,707.26 L251.17,706.35 L251.43,705.43 L251.69,704.52 L251.95,703.61 L252.21,702.69 L252.48,701.78 L252.74,700.86 L253.00,699.95 L253.27,699.04 L253.53,698.12 L253.80,697.21 L254.06,696.29 L254.33,695.38 L254.60,694.47 L254.86,693.55 L255.13,692.64 L255.40,691.73 L255.68,690.82 L255.95,689.90 L256.23,688.99 L256.50,688.08 L256.78,687.17 L257.06,686.26 L257.35,685.35 L257.63,684.45 L257.92,683.54 L258.21,682.63 L258.50,681.73 L258.79,680.83 L259.09,679.92 L259.39,679.02 L259.69,678.12 L260.00,677.22 L260.31,676.32 L260.62,675.43 L260.93,674.53 L261.25,673.64 L261.57,672.74 L261.90,671.85 L262.23,670.96 L262.56,670.08 L262.90,669.19 L263.24,668.31 L263.58,667.42 L263.93,666.54 L264.28,665.66 L264.64,664.79 L265.00,663.91 L265.37,663.04 L265.74,662.17 L266.12,661.30 L266.50,660.44 L266.89,659.57 L267.28,658.71 L267.67,657.85 L268.07,656.99 L268.48,656.14 L268.88,655.29 L269.29,654.43 L269.71,653.58 L270.12,652.73 L270.54,651.88 L270.96,651.04 L271.38,650.19 L271.81,649.34 L272.23,648.50 L272.65,647.65 L273.08,646.80 L273.50,645.96 L273.92,645.11 L274.35,644.27 L274.77,643.42 L275.19,642.57 L275.60,641.73 L276.02,640.88 L276.43,640.03 L276.84,639.17 L277.25,638.32 L277.65,637.47 L278.06,636.62 L278.46,635.76 L278.86,634.91 L279.25,634.05 L279.65,633.19 L280.04,632.33 L280.43,631.47 L280.82,630.61 L281.20,629.75 L281.59,628.89 L281.97,628.03 L282.35,627.17 L282.73,626.31 L283.11,625.44 L283.49,624.58 L283.86,623.72 L284.24,622.85 L284.61,621.99 L284.98,621.12 L285.35,620.26 L285.72,619.39 L286.09,618.52 L286.46,617.66 L286.83,616.79 L287.19,615.92 L287.56,615.06 L287.92,614.19 L288.29,613.32 L288.65,612.45 L289.01,611.59 L289.38,610.72 L289.74,609.85 L290.10,608.98 L290.46,608.12 L290.82,607.25 L291.19,606.38 L291.55,605.51 L291.91,604.64 L292.27,603.77 L292.64,602.90 L293.00,602.02 L293.36,601.15 L293.73,600.28 L294.09,599.40 L294.46,598.53 L294.82,597.65 L295.19,596.77 L295.56,595.89 L295.93,595.01 L296.30,594.12 L296.67,593.24 L297.04,592.35 L297.42,591.46 L297.79,590.57 L298.17,589.68 L298.55,588.79 L298.93,587.89 L299.31,586.99 L299.70,586.09 L300.10,585.20 L300.50,584.31 L300.91,583.42 L301.33,582.54 L301.76,581.66 L302.20,580.80 L302.66,579.94 L303.14,579.10 L303.63,578.26 L304.14,577.44 L304.68,576.64 L305.23,575.85 L305.81,575.08 L306.41,574.33 L307.04,573.60 L307.70,572.90 L308.38,572.21 L309.10,571.55 L309.84,570.92 L310.61,570.30 L311.40,569.71 L312.21,569.13 L313.03,568.57 L313.86,568.02 L314.70,567.48 L315.55,566.96 L316.39,566.44 L317.23,565.93 L318.06,565.43 L318.89,564.93 L319.72,564.42 L320.53,563.92 L321.34,563.40 L322.13,562.88 L322.92,562.34 L323.69,561.79 L324.45,561.23 L325.20,560.64 L325.93,560.03 L326.65,559.41 L327.36,558.77 L328.06,558.12 L328.75,557.46 L329.43,556.79 L330.10,556.12 L330.77,555.44 L331.43,554.77 L332.08,554.10 L332.73,553.42 L333.37,552.75 L334.01,552.07 L334.65,551.39 L335.28,550.71 L335.91,550.03 L336.55,549.35 L337.18,548.67 L337.81,547.98 L338.45,547.29 L339.08,546.60 L339.72,545.90 L340.37,545.20 L341.01,544.50 L341.67,543.79 L342.32,543.08 L342.99,542.37 L343.66,541.65 L344.34,540.92 L345.02,540.19 L345.72,539.46 L346.42,538.72 L347.14,537.99 L347.87,537.27 L348.61,536.55 L349.36,535.86 L350.13,535.19 L350.91,534.56 L351.71,533.96 L352.52,533.40 L353.36,532.88 L354.21,532.42 L355.08,532.02 L355.97,531.68 L356.88,531.41 L357.82,531.22 L358.78,531.10 L359.76,531.08 L360.76,531.14 L361.79,531.29 L362.84,531.51 L363.89,531.77 L364.95,532.05 L366.01,532.33 L367.06,532.58 L368.08,532.79 L369.09,532.93 L370.07,532.97 L371.00,532.90 L371.91,532.71 L372.78,532.39 L373.65,531.97 L374.53,531.46 L375.42,530.87 L376.36,530.20 L377.35,529.48 L378.40,528.72 L379.54,527.92 L380.77,527.10 L382.11,526.29 L383.50,525.56 L384.87,525.00 L386.17,524.70 L387.37,524.68 L388.49,524.89 L389.53,525.30 L390.50,525.87 L391.41,526.58 L392.27,527.39 L393.09,528.26 L393.87,529.16 L394.63,530.07 L395.36,530.97 L396.06,531.88 L396.74,532.79 L397.40,533.70 L398.03,534.62 L398.64,535.53 L399.23,536.44 L399.79,537.36 L400.34,538.27 L400.87,539.19 L401.37,540.11 L401.87,541.02 L402.34,541.94 L402.80,542.85 L403.24,543.77 L403.67,544.68 L404.08,545.60 L404.48,546.51 L404.87,547.42 L405.24,548.34 L405.61,549.25 L405.96,550.16 L406.31,551.06 L406.64,551.97 L406.97,552.87 L407.30,553.78 L407.61,554.68 L407.92,555.57 L408.23,556.47 L408.53,557.36 L408.83,558.25 L409.12,559.14 L409.41,560.03 L409.70,560.92 L409.98,561.80 L410.27,562.68 L410.55,563.57 L410.83,564.45 L411.11,565.32 L411.39,566.20 L411.67,567.08 L411.95,567.95 L412.23,568.83 L412.51,569.70 L412.80,570.58 L413.08,571.45 L413.37,572.32 L413.66,573.19 L413.96,574.07 L414.26,574.94 L414.56,575.81 L414.87,576.68 L415.18,577.56 L415.49,578.43 L415.81,579.30 L416.14,580.18 L416.47,581.05 L416.80,581.93 L417.14,582.80 L417.47,583.68 L417.81,584.56 L418.16,585.43 L418.50,586.31 L418.84,587.19 L419.19,588.07 L419.54,588.95 L419.88,589.83 L420.23,590.71 L420.57,591.60 L420.92,592.48 L421.26,593.37 L421.61,594.25 L421.95,595.14 L422.28,596.03 L422.62,596.92 L422.95,597.81 L423.28,598.70 L423.61,599.59 L423.93,600.49 L424.24,601.38 L424.55,602.28 L424.86,603.18 L425.16,604.08 L425.46,604.98 L425.76,605.88 L426.05,606.79 L426.33,607.69 L426.61,608.60 L426.89,609.51 L427.16,610.41 L427.43,611.32 L427.70,612.23 L427.96,613.15 L428.22,614.06 L428.48,614.97 L428.73,615.89 L428.98,616.80 L429.22,617.72 L429.47,618.63 L429.71,619.55 L429.95,620.47 L430.18,621.39 L430.41,622.31 L430.64,623.23 L430.87,624.15 L431.10,625.07 L431.32,626.00 L431.54,626.92 L431.76,627.84 L431.98,628.77 L432.19,629.69 L432.41,630.62 L432.62,631.54 L432.83,632.47 L433.04,633.39 L433.25,634.32 L433.45,635.25 L433.66,636.18 L433.86,637.10 L434.07,638.03 L434.27,638.96 L434.47,639.89 L434.68,640.82 L434.88,641.74 L435.08,642.67 L435.28,643.60 L435.48,644.53 L435.68,645.46 L435.88,646.39 L436.08,647.31 L436.28,648.24 L436.48,649.17 L436.69,650.10 L436.89,651.03 L437.09,651.95 L437.30,652.88 L437.50,653.81 L437.71,654.74 L437.91,655.66 L438.12,656.59 L438.33,657.51 L438.53,658.44 L438.74,659.37 L438.95,660.29 L439.16,661.22 L439.37,662.14 L439.59,663.07 L439.80,663.99 L440.01,664.91 L440.22,665.84 L440.44,666.76 L440.65,667.69 L440.87,668.61 L441.08,669.53 L441.30,670.46 L441.52,671.38 L441.73,672.30 L441.95,673.22 L442.17,674.15 L442.39,675.07 L442.61,675.99 L442.83,676.91 L443.04,677.84 L443.26,678.76 L443.48,679.68 L443.71,680.60 L443.93,681.52 L444.15,682.45 L444.37,683.37 L444.59,684.29 L444.81,685.21 L445.03,686.13 L445.26,687.05 L445.48,687.97 L445.70,688.90 L445.92,689.82 L446.15,690.74 L446.37,691.66 L446.59,692.58 L446.82,693.50 L447.04,694.42 L447.26,695.34 L447.49,696.26 L447.71,697.19 L447.93,698.11 L448.16,699.03 L448.38,699.95 L448.60,700.87 L448.83,701.79 L449.05,702.71 L449.27,703.63 L449.50,704.56 L449.72,705.48 L449.94,706.40 L450.16,707.32 L450.39,708.24 L450.61,709.17 L450.83,710.09 L451.05,711.01 L451.27,711.93 L451.50,712.85 L451.72,713.78 L451.94,714.70 L452.16,715.62 L452.38,716.54 L452.60,717.47 L452.82,718.39 L453.04,719.31 L453.25,720.24 L453.47,721.16 L453.69,722.09 L453.91,723.01 L454.12,723.93 L454.34,724.86 L454.56,725.78 L454.77,726.71 L454.99,727.63 L455.21,728.56 L455.43,729.48 L455.65,730.40 L455.87,731.33 L456.09,732.25 L456.32,733.17 L456.55,734.09 L456.78,735.01 L457.02,735.93 L457.25,736.85 L457.50,737.76 L457.74,738.68 L457.99,739.60 L458.24,740.51 L458.50,741.42 L458.77,742.33 L459.04,743.24 L459.31,744.15 L459.59,745.05 L459.88,745.95 L460.17,746.86 L460.47,747.75 L460.77,748.65 L461.09,749.55 L461.41,750.44 L461.74,751.33 L462.07,752.22 L462.42,753.10 L462.77,753.98 L463.13,754.86 L463.50,755.74 L463.89,756.61 L464.28,757.48 L464.68,758.35 L465.09,759.22 L465.51,760.08 L465.94,760.93 L466.38,761.79 L466.84,762.64 L467.30,763.49" fill="none" stroke="#00008b" stroke-width="4.0" stroke-linejoin="round" clip-path="url(#c2)"/>
<clipPath id="c3"><rect x="593.40" y="491.20" width="389.20" height="384.30"/></clipPath>
<path d="M590.94,858.88 L592.25,858.89 L593.54,858.90 L594.81,858.90 L596.07,858.91 L597.31,858.92 L598.54,858.92 L599.75,858.92 L600.96,858.93 L602.15,858.93 L603.32,858.93 L604.49,858.93 L605.65,858.93 L606.80,858.93 L607.93,858.92 L609.07,858.92 L610.19,858.91 L611.31,858.91 L612.42,858.90 L613.52,858.89 L614.62,858.88 L615.72,858.86 L616.82,858.85 L617.91,858.83 L619.00,858.82 L620.09,858.80 L621.18,858.77 L622.27,858.75 L623.36,858.73 L624.45,858.70 L625.55,858.67 L626.65,858.64 L627.75,858.61 L628.86,858.57 L629.97,858.54 L631.09,858.50 L632.21,858.46 L633.35,858.41 L634.49,858.37 L635.64,858.32 L636.80,858.27 L637.97,858.21 L639.16,858.16 L640.35,858.10 L641.56,858.03 L642.77,857.97 L643.99,857.89 L645.22,857.81 L646.46,857.71 L647.69,857.60 L648.93,857.47 L650.16,857.32 L651.39,857.15 L652.61,856.96 L653.83,856.74 L655.03,856.49 L656.22,856.22 L657.40,855.91 L658.57,855.56 L659.71,855.18 L660.84,854.76 L661.94,854.30 L663.02,853.80 L664.08,853.25 L665.10,852.65 L666.10,852.00 L667.07,851.31 L668.01,850.56 L668.92,849.78 L669.81,848.95 L670.66,848.09 L671.50,847.20 L672.31,846.28 L673.10,845.33 L673.87,844.37 L674.62,843.39 L675.35,842.39 L676.06,841.38 L676.75,840.36 L677.43,839.34 L678.10,838.32 L678.75,837.30 L679.38,836.27 L680.00,835.23 L680.61,834.20 L681.20,833.16 L681.78,832.12 L682.34,831.07 L682.90,830.03 L683.44,828.98 L683.96,827.92 L684.48,826.87 L684.98,825.81 L685.47,824.75 L685.95,823.68 L686.42,822.62 L686.88,821.55 L687.32,820.48 L687.76,819.40 L688.18,818.33 L688.60,817.25 L689.00,816.17 L689.40,815.08 L689.79,814.00 L690.17,812.91 L690.53,811.82 L690.90,810.73 L691.25,809.64 L691.59,808.54 L691.93,807.44 L692.26,806.34 L692.59,805.24 L692.90,804.14 L693.21,803.04 L693.51,801.93 L693.81,800.82 L694.10,799.72 L694.39,798.61 L694.67,797.49 L694.95,796.38 L695.22,795.27 L695.48,794.15 L695.75,793.04 L696.01,791.92 L696.26,790.80 L696.51,789.68 L696.76,788.56 L697.01,787.44 L697.25,786.32 L697.49,785.19 L697.73,784.07 L697.96,782.95 L698.20,781.82 L698.43,780.69 L698.66,779.57 L698.89,778.44 L699.12,777.31 L699.35,776.19 L699.57,775.06 L699.79,773.93 L700.01,772.80 L700.23,771.67 L700.45,770.53 L700.67,769.40 L700.88,768.27 L701.09,767.14 L701.30,766.00 L701.51,764.87 L701.72,763.74 L701.93,762.60 L702.13,761.46 L702.33,760.33 L702.54,759.19 L702.73,758.06 L702.93,756.92 L703.13,755.78 L703.33,754.64 L703.52,753.50 L703.71,752.36 L703.90,751.22 L704.09,750.09 L704.28,748.94 L704.47,747.80 L704.65,746.66 L704.84,745.52 L705.02,744.38 L705.20,743.24 L705.38,742.10 L705.56,740.95 L705.73,739.81 L705.91,738.67 L706.08,737.52 L706.25,736.38 L706.43,735.24 L706.60,734.09 L706.77,732.95 L706.93,731.80 L707.10,730.66 L707.26,729.51 L707.43,728.37 L707.59,727.22 L707.75,726.08 L707.91,724.93 L708.07,723.78 L708.23,722.64 L708.39,721.49 L708.54,720.35 L708.69,719.20 L708.85,718.05 L709.00,716.91 L709.15,715.76 L709.30,714.61 L709.45,713.46 L709.60,712.32 L709.74,711.17 L709.89,710.02 L710.03,708.88 L710.18,707.73 L710.32,706.58 L710.46,705.44 L710.60,704.29 L710.74,703.14 L710.88,701.99 L711.01,700.85 L711.15,699.70 L711.29,698.55 L711.42,697.41 L711.55,696.26 L711.69,695.11 L711.82,693.97 L711.95,692.82 L712.08,691.67 L712.21,690.53 L712.34,689.38 L712.47,688.23 L712.59,687.09 L712.72,685.94 L712.85,684.79 L712.97,683.65 L713.10,682.50 L713.22,681.35 L713.35,680.21 L713.47,679.06 L713.60,677.91 L713.72,676.77 L713.84,675.62 L713.97,674.47 L714.09,673.32 L714.21,672.18 L714.34,671.03 L714.46,669.88 L714.58,668.74 L714.70,667.59 L714.83,666.44 L714.95,665.29 L715.07,664.15 L715.19,663.00 L715.31,661.85 L715.44,660.70 L715.56,659.55 L715.68,658.41 L715.81,657.26 L715.93,656.11 L716.05,654.96 L716.18,653.81 L716.30,652.66 L716.43,651.51 L716.55,650.36 L716.68,649.21 L716.80,648.06 L716.93,646.91 L717.06,645.76 L717.19,644.61 L717.31,643.46 L717.44,642.31 L717.57,641.16 L717.70,640.01 L717.84,638.86 L717.97,637.70 L718.10,636.55 L718.23,635.40 L718.37,634.25 L718.50,633.09 L718.64,631.94 L718.78,630.79 L718.92,629.63 L719.06,628.48 L719.20,627.33 L719.34,626.17 L719.48,625.02 L719.63,623.86 L719.77,622.71 L719.92,621.56 L720.06,620.40 L720.21,619.25 L720.36,618.09 L720.51,616.94 L720.66,615.78 L720.81,614.63 L720.97,613.48 L721.12,612.32 L721.28,611.17 L721.44,610.02 L721.59,608.87 L721.75,607.71 L721.92,606.56 L722.08,605.41 L722.24,604.26 L722.41,603.11 L722.57,601.96 L722.74,600.81 L722.91,599.66 L723.08,598.51 L723.25,597.36 L723.42,596.22 L723.59,595.07 L723.77,593.92 L723.95,592.78 L724.12,591.63 L724.30,590.49 L724.48,589.35 L724.67,588.21 L724.85,587.07 L725.03,585.93 L725.22,584.79 L725.41,583.65 L725.60,582.51 L725.79,581.37 L725.98,580.24 L726.18,579.11 L726.37,577.97 L726.57,576.84 L726.77,575.71 L726.97,574.58 L727.17,573.45 L727.37,572.32 L727.58,571.20 L727.79,570.07 L728.00,568.95 L728.22,567.82 L728.44,566.70 L728.66,565.57 L728.88,564.45 L729.11,563.33 L729.34,562.20 L729.58,561.08 L729.82,559.96 L730.07,558.84 L730.32,557.71 L730.57,556.59 L730.83,555.47 L731.09,554.35 L731.36,553.22 L731.64,552.10 L731.92,550.97 L732.21,549.85 L732.50,548.72 L732.80,547.60 L733.10,546.47 L733.42,545.34 L733.74,544.22 L734.06,543.09 L734.40,541.96 L734.74,540.82 L735.09,539.69 L735.44,538.56 L735.81,537.42 L736.18,536.29 L736.56,535.15 L736.95,534.01 L737.35,532.87 L737.76,531.72 L738.27,530.53 L738.96,529.28 L739.93,527.90 L741.28,526.38 L743.08,524.70 L745.24,524.32 L747.25,525.49 L748.82,526.76 L750.02,528.07 L750.92,529.40 L751.57,530.75 L752.05,532.10 L752.41,533.44 L752.73,534.76 L753.02,536.05 L753.29,537.31 L753.55,538.55 L753.79,539.76 L754.02,540.96 L754.23,542.14 L754.44,543.31 L754.63,544.47 L754.82,545.61 L755.00,546.75 L755.17,547.89 L755.34,549.02 L755.52,550.16 L755.68,551.29 L755.85,552.43 L756.02,553.56 L756.19,554.70 L756.35,555.84 L756.51,556.97 L756.67,558.11 L756.83,559.25 L756.99,560.39 L757.15,561.53 L757.31,562.67 L757.46,563.81 L757.62,564.95 L757.77,566.09 L757.92,567.23 L758.07,568.37 L758.22,569.51 L758.37,570.65 L758.52,571.79 L758.66,572.94 L758.81,574.08 L758.95,575.22 L759.10,576.37 L759.24,577.51 L759.38,578.65 L759.52,579.80 L759.66,580.94 L759.80,582.09 L759.94,583.24 L760.08,584.38 L760.21,585.53 L760.35,586.67 L760.48,587.82 L760.62,588.97 L760.75,590.11 L760.88,591.26 L761.01,592.41 L761.14,593.56 L761.27,594.70 L761.40,595.85 L761.53,597.00 L761.66,598.15 L761.79,599.30 L761.92,600.45 L762.04,601.60 L762.17,602.74 L762.29,603.89 L762.42,605.04 L762.54,606.19 L762.67,607.34 L762.79,608.49 L762.92,609.64 L763.04,610.79 L763.16,611.94 L763.28,613.09 L763.40,614.24 L763.53,615.39 L763.65,616.55 L763.77,617.70 L763.89,618.85 L764.01,620.00 L764.13,621.15 L764.25,622.30 L764.37,623.45 L764.49,624.60 L764.61,625.75 L764.73,626.90 L764.85,628.05 L764.97,629.21 L765.08,630.36 L765.20,631.51 L765.32,632.66 L765.44,633.81 L765.56,634.96 L765.68,636.11 L765.80,637.26 L765.92,638.41 L766.04,639.56 L766.15,640.72 L766.27,641.87 L766.39,643.02 L766.51,644.17 L766.63,645.32 L766.75,646.47 L766.87,647.62 L766.99,648.77 L767.10,649.92 L767.22,651.07 L767.34,652.22 L767.46,653.38 L767.58,654.53 L767.70,655.68 L767.81,656.83 L767.93,657.98 L768.05,659.13 L768.17,660.28 L768.29,661.43 L768.41,662.58 L768.53,663.73 L768.64,664.88 L768.76,666.03 L768.88,667.19 L769.00,668.34 L769.12,669.49 L769.24,670.64 L769.36,671.79 L769.47,672.94 L769.59,674.09 L769.71,675.24 L769.83,676.39 L769.95,677.54 L770.07,678.69 L770.19,679.84 L770.31,680.99 L770.42,682.15 L770.54,683.30 L770.66,684.45 L770.78,685.60 L770.90,686.75 L771.02,687.90 L771.14,689.05 L771.26,690.20 L771.38,691.35 L771.50,692.50 L771.62,693.65 L771.74,694.80 L771.85,695.96 L771.97,697.11 L772.09,698.26 L772.21,699.41 L772.33,700.56 L772.45,701.71 L772.57,702.86 L772.69,704.01 L772.81,705.16 L772.93,706.31 L773.05,707.46 L773.18,708.61 L773.30,709.77 L773.42,710.92 L773.54,712.07 L773.66,713.22 L773.78,714.37 L773.90,715.52 L774.02,716.67 L774.14,717.82 L774.26,718.97 L774.39,720.12 L774.51,721.27 L774.63,722.42 L774.75,723.58 L774.87,724.73 L774.99,725.88 L775.12,727.03 L775.24,728.18 L775.36,729.33 L775.48,730.48 L775.61,731.63 L775.73,732.78 L775.85,733.93 L775.98,735.09 L776.10,736.24 L776.22,737.39 L776.35,738.54 L776.47,739.69 L776.59,740.84 L776.72,741.99 L776.84,743.14 L776.97,744.29 L777.09,745.44 L777.22,746.60 L777.34,747.75 L777.46,748.90 L777.59,750.05 L777.72,751.20 L777.84,752.35 L777.97,753.50 L778.09,754.65 L778.22,755.81 L778.34,756.96 L778.47,758.11 L778.60,759.26 L778.72,760.41 L778.85,761.56 L778.98,762.71 L779.11,763.86 L779.23,765.02 L779.36,766.17 L779.49,767.32 L779.62,768.47 L779.74,769.62 L779.87,770.77 L780.00,771.92 L780.13,773.08 L780.26,774.23 L780.40,775.38 L780.53,776.53 L780.67,777.68 L780.80,778.83 L780.94,779.98 L781.08,781.13 L781.23,782.28 L781.38,783.43 L781.53,784.58 L781.68,785.73 L781.83,786.87 L781.99,788.02 L782.16,789.17 L782.32,790.31 L782.50,791.46 L782.67,792.61 L782.85,793.75 L783.03,794.89 L783.22,796.04 L783.42,797.18 L783.62,798.32 L783.82,799.46 L784.03,800.60 L784.25,801.74 L784.47,802.88 L784.70,804.02 L784.94,805.16 L785.18,806.29 L785.43,807.43 L785.68,808.56 L785.95,809.70 L786.22,810.83 L786.50,811.96 L786.78,813.09 L787.08,814.22 L787.38,815.34 L787.69,816.47 L788.01,817.60 L788.34,818.72 L788.68,819.84 L789.02,820.96 L789.38,822.08 L789.74,823.20 L790.12,824.32 L790.51,825.43 L790.90,826.55 L791.31,827.66 L791.73,828.77 L792.16,829.88 L792.60,830.99 L793.05,832.09 L793.51,833.20 L793.98,834.30 L794.47,835.40 L794.97,836.50 L795.48,837.60 L796.00,838.70 L796.53,839.79 L797.08,840.88 L797.64,841.97 L798.22,843.06 L798.81,844.14 L799.42,845.22 L800.05,846.28 L800.71,847.31 L801.40,848.33 L802.12,849.31 L802.88,850.26 L803.69,851.17 L804.53,852.03 L805.43,852.85 L806.38,853.61 L807.39,854.30 L808.45,854.94 L809.59,855.50 L810.78,855.99 L812.04,856.40 L813.34,856.76 L814.66,857.06 L816.00,857.31 L817.33,857.52 L818.65,857.70 L819.94,857.86 L821.19,858.00 L822.42,858.12 L823.62,858.22 L824.79,858.30 L825.95,858.37 L827.08,858.43 L828.20,858.48 L829.31,858.51 L830.41,858.54 L831.50,858.56 L832.59,858.58 L833.67,858.59 L834.76,858.60 L835.85,858.61 L836.95,858.62 L838.05,858.64 L839.16,858.65 L840.27,858.66 L841.38,858.67 L842.50,858.68 L843.62,858.69 L844.75,858.70 L845.88,858.71 L847.01,858.71 L848.15,858.72 L849.28,858.73 L850.43,858.74 L851.57,858.75 L852.72,858.76 L853.87,858.77 L855.02,858.78 L856.17,858.78 L857.32,858.79 L858.48,858.80 L859.64,858.81 L860.80,858.81 L861.95,858.82 L863.12,858.83 L864.28,858.83 L865.44,858.84 L866.60,858.85 L867.76,858.85 L868.92,858.86 L870.09,858.86 L871.25,858.87 L872.41,858.87 L873.57,858.88 L874.73,858.88 L875.89,858.88 L877.04,858.89 L878.20,858.89 L879.36,858.89 L880.51,858.90 L881.66,858.90 L882.82,858.90 L883.97,858.90 L885.12,858.90 L886.27,858.90 L887.42,858.91 L888.57,858.91 L889.72,858.91 L890.87,858.91 L892.01,858.91 L893.16,858.91 L894.31,858.91 L895.46,858.91 L896.60,858.91 L897.75,858.91 L898.89,858.91 L900.04,858.91 L901.19,858.91 L902.33,858.91 L903.48,858.91 L904.63,858.90 L905.77,858.90 L906.92,858.90 L908.07,858.90 L909.21,858.90 L910.36,858.90 L911.51,858.90 L912.66,858.90 L913.81,858.90 L914.96,858.90 L916.11,858.90 L917.25,858.90 L918.41,858.90 L919.56,858.90 L920.71,858.90 L921.86,858.90 L923.01,858.90 L924.16,858.90 L925.31,858.90 L926.46,858.90 L927.62,858.90 L928.77,858.90 L929.92,858.90 L931.07,858.90 L932.23,858.90 L933.38,858.90 L934.53,858.90 L935.68,858.90 L936.84,858.90 L937.99,858.90 L939.14,858.90 L940.30,858.90 L941.45,858.90 L942.60,858.90 L943.76,858.90 L944.91,858.90 L946.06,858.90 L947.22,858.90 L948.37,858.90 L949.52,858.90 L950.67,858.90 L951.83,858.90 L952.98,858.90 L954.13,858.90 L955.28,858.90 L956.44,858.90 L957.59,858.90 L958.74,858.90 L959.89,858.90 L961.04,858.90 L962.19,858.90 L963.35,858.90 L964.50,858.90 L965.65,858.90 L966.80,858.90 L967.95,858.90 L969.10,858.90 L970.24,858.90 L971.39,858.90 L972.54,858.90 L973.69,858.90 L974.84,858.90 L975.98,858.90 L977.13,858.90 L978.28,858.90 L979.42,858.90 L980.57,858.90 L981.71,858.90 L982.86,858.90 L984.00,858.90" fill="none" stroke="#00008b" stroke-width="4.0" stroke-linejoin="round" clip-path="url(#c3)"/>
<line x1="324.50" y1="392.40" x2="324.50" y2="7.60" stroke="#dc143c" stroke-width="4.0" stroke-dasharray="13.65 5.7"/>
<line x1="717.40" y1="392.40" x2="717.40" y2="7.60" stroke="#dc143c" stroke-width="4.0" stroke-dasharray="13.65 5.7"/>
<line x1="336.80" y1="875.50" x2="336.80" y2="491.20" stroke="#dc143c" stroke-width="4.0" stroke-dasharray="13.65 5.7"/>
<line x1="753.90" y1="875.50" x2="753.90" y2="491.20" stroke="#dc143c" stroke-width="4.0" stroke-dasharray="13.65 5.7"/>
<path d="M76.87,7.87H465.50V392.47H76.87Z" fill="none" stroke="#000" stroke-width="0.8" stroke-linejoin="miter"/>
<path d="M593.50,7.87H982.50V392.47H593.50Z" fill="none" stroke="#000" stroke-width="0.8" stroke-linejoin="miter"/>
<path d="M76.87,491.13H465.50V875.75H76.87Z" fill="none" stroke="#000" stroke-width="0.8" stroke-linejoin="miter"/>
<path d="M593.50,491.13H982.50V875.75H593.50Z" fill="none" stroke="#000" stroke-width="0.8" stroke-linejoin="miter"/>
<line x1="217.85" y1="392.40" x2="217.85" y2="399.80" stroke="#000" stroke-width="1.75"/>
<line x1="217.85" y1="7.60" x2="217.85" y2="0.20" stroke="#000" stroke-width="1.75"/>
<line x1="76.80" y1="392.40" x2="76.80" y2="397.60" stroke="#000" stroke-width="1.20"/>
<line x1="76.80" y1="7.60" x2="76.80" y2="2.40" stroke="#000" stroke-width="1.20"/>
<line x1="111.15" y1="392.40" x2="111.15" y2="397.60" stroke="#000" stroke-width="1.20"/>
<line x1="111.15" y1="7.60" x2="111.15" y2="2.40" stroke="#000" stroke-width="1.20"/>
<line x1="139.22" y1="392.40" x2="139.22" y2="397.60" stroke="#000" stroke-width="1.20"/>
<line x1="139.22" y1="7.60" x2="139.22" y2="2.40" stroke="#000" stroke-width="1.20"/>
<line x1="162.94" y1="392.40" x2="162.94" y2="397.60" stroke="#000" stroke-width="1.20"/>
<line x1="162.94" y1="7.60" x2="162.94" y2="2.40" stroke="#000" stroke-width="1.20"/>
<line x1="183.50" y1="392.40" x2="183.50" y2="397.60" stroke="#000" stroke-width="1.20"/>
<line x1="183.50" y1="7.60" x2="183.50" y2="2.40" stroke="#000" stroke-width="1.20"/>
<line x1="201.63" y1="392.40" x2="201.63" y2="397.60" stroke="#000" stroke-width="1.20"/>
<line x1="201.63" y1="7.60" x2="201.63" y2="2.40" stroke="#000" stroke-width="1.20"/>
<line x1="324.55" y1="392.40" x2="324.55" y2="397.60" stroke="#000" stroke-width="1.20"/>
<line x1="324.55" y1="7.60" x2="324.55" y2="2.40" stroke="#000" stroke-width="1.20"/>
<line x1="386.97" y1="392.40" x2="386.97" y2="397.60" stroke="#000" stroke-width="1.20"/>
<line x1="386.97" y1="7.60" x2="386.97" y2="2.40" stroke="#000" stroke-width="1.20"/>
<line x1="431.25" y1="392.40" x2="431.25" y2="397.60" stroke="#000" stroke-width="1.20"/>
<line x1="431.25" y1="7.60" x2="431.25" y2="2.40" stroke="#000" stroke-width="1.20"/>
<line x1="465.60" y1="392.40" x2="465.60" y2="397.60" stroke="#000" stroke-width="1.20"/>
<line x1="465.60" y1="7.60" x2="465.60" y2="2.40" stroke="#000" stroke-width="1.20"/>
<line x1="76.80" y1="375.80" x2="69.40" y2="375.80" stroke="#000" stroke-width="1.75"/>
<line x1="465.60" y1="375.80" x2="473.00" y2="375.80" stroke="#000" stroke-width="1.75"/>
<line x1="76.80" y1="296.10" x2="69.40" y2="296.10" stroke="#000" stroke-width="1.75"/>
<line x1="465.60" y1="296.10" x2="473.00" y2="296.10" stroke="#000" stroke-width="1.75"/>
<line x1="76.80" y1="216.40" x2="69.40" y2="216.40" stroke="#000" stroke-width="1.75"/>
<line x1="465.60" y1="216.40" x2="473.00" y2="216.40" stroke="#000" stroke-width="1.75"/>
<line x1="76.80" y1="136.70" x2="69.40" y2="136.70" stroke="#000" stroke-width="1.75"/>
<line x1="465.60" y1="136.70" x2="473.00" y2="136.70" stroke="#000" stroke-width="1.75"/>
<line x1="76.80" y1="57.00" x2="69.40" y2="57.00" stroke="#000" stroke-width="1.75"/>
<line x1="465.60" y1="57.00" x2="473.00" y2="57.00" stroke="#000" stroke-width="1.75"/>
<line x1="593.40" y1="392.40" x2="593.40" y2="399.80" stroke="#000" stroke-width="1.75"/>
<line x1="593.40" y1="7.60" x2="593.40" y2="0.20" stroke="#000" stroke-width="1.75"/>
<line x1="672.05" y1="392.40" x2="672.05" y2="399.80" stroke="#000" stroke-width="1.75"/>
<line x1="672.05" y1="7.60" x2="672.05" y2="0.20" stroke="#000" stroke-width="1.75"/>
<line x1="750.70" y1="392.40" x2="750.70" y2="399.80" stroke="#000" stroke-width="1.75"/>
<line x1="750.70" y1="7.60" x2="750.70" y2="0.20" stroke="#000" stroke-width="1.75"/>
<line x1="829.35" y1="392.40" x2="829.35" y2="399.80" stroke="#000" stroke-width="1.75"/>
<line x1="829.35" y1="7.60" x2="829.35" y2="0.20" stroke="#000" stroke-width="1.75"/>
<line x1="908.00" y1="392.40" x2="908.00" y2="399.80" stroke="#000" stroke-width="1.75"/>
<line x1="908.00" y1="7.60" x2="908.00" y2="0.20" stroke="#000" stroke-width="1.75"/>
<line x1="593.40" y1="375.80" x2="586.00" y2="375.80" stroke="#000" stroke-width="1.75"/>
<line x1="982.60" y1="375.80" x2="990.00" y2="375.80" stroke="#000" stroke-width="1.75"/>
<line x1="593.40" y1="278.67" x2="586.00" y2="278.67" stroke="#000" stroke-width="1.75"/>
<line x1="982.60" y1="278.67" x2="990.00" y2="278.67" stroke="#000" stroke-width="1.75"/>
<line x1="593.40" y1="181.54" x2="586.00" y2="181.54" stroke="#000" stroke-width="1.75"/>
<line x1="982.60" y1="181.54" x2="990.00" y2="181.54" stroke="#000" stroke-width="1.75"/>
<line x1="593.40" y1="84.41" x2="586.00" y2="84.41" stroke="#000" stroke-width="1.75"/>
<line x1="982.60" y1="84.41" x2="990.00" y2="84.41" stroke="#000" stroke-width="1.75"/>
<line x1="76.80" y1="875.50" x2="76.80" y2="882.90" stroke="#000" stroke-width="1.75"/>
<line x1="76.80" y1="491.20" x2="76.80" y2="483.80" stroke="#000" stroke-width="1.75"/>
<line x1="142.20" y1="875.50" x2="142.20" y2="882.90" stroke="#000" stroke-width="1.75"/>
<line x1="142.20" y1="491.20" x2="142.20" y2="483.80" stroke="#000" stroke-width="1.75"/>
<line x1="207.60" y1="875.50" x2="207.60" y2="882.90" stroke="#000" stroke-width="1.75"/>
<line x1="207.60" y1="491.20" x2="207.60" y2="483.80" stroke="#000" stroke-width="1.75"/>
<line x1="273.00" y1="875.50" x2="273.00" y2="882.90" stroke="#000" stroke-width="1.75"/>
<line x1="273.00" y1="491.20" x2="273.00" y2="483.80" stroke="#000" stroke-width="1.75"/>
<line x1="338.40" y1="875.50" x2="338.40" y2="882.90" stroke="#000" stroke-width="1.75"/>
<line x1="338.40" y1="491.20" x2="338.40" y2="483.80" stroke="#000" stroke-width="1.75"/>
<line x1="403.80" y1="875.50" x2="403.80" y2="882.90" stroke="#000" stroke-width="1.75"/>
<line x1="403.80" y1="491.20" x2="403.80" y2="483.80" stroke="#000" stroke-width="1.75"/>
<line x1="76.80" y1="859.10" x2="69.40" y2="859.10" stroke="#000" stroke-width="1.75"/>
<line x1="465.60" y1="859.10" x2="473.00" y2="859.10" stroke="#000" stroke-width="1.75"/>
<line x1="76.80" y1="766.47" x2="69.40" y2="766.47" stroke="#000" stroke-width="1.75"/>
<line x1="465.60" y1="766.47" x2="473.00" y2="766.47" stroke="#000" stroke-width="1.75"/>
<line x1="76.80" y1="673.83" x2="69.40" y2="673.83" stroke="#000" stroke-width="1.75"/>
<line x1="465.60" y1="673.83" x2="473.00" y2="673.83" stroke="#000" stroke-width="1.75"/>
<line x1="76.80" y1="581.19" x2="69.40" y2="581.19" stroke="#000" stroke-width="1.75"/>
<line x1="465.60" y1="581.19" x2="473.00" y2="581.19" stroke="#000" stroke-width="1.75"/>
<line x1="593.40" y1="875.50" x2="593.40" y2="882.90" stroke="#000" stroke-width="1.75"/>
<line x1="593.40" y1="491.20" x2="593.40" y2="483.80" stroke="#000" stroke-width="1.75"/>
<line x1="665.00" y1="875.50" x2="665.00" y2="882.90" stroke="#000" stroke-width="1.75"/>
<line x1="665.00" y1="491.20" x2="665.00" y2="483.80" stroke="#000" stroke-width="1.75"/>
<line x1="736.60" y1="875.50" x2="736.60" y2="882.90" stroke="#000" stroke-width="1.75"/>
<line x1="736.60" y1="491.20" x2="736.60" y2="483.80" stroke="#000" stroke-width="1.75"/>
<line x1="808.20" y1="875.50" x2="808.20" y2="882.90" stroke="#000" stroke-width="1.75"/>
<line x1="808.20" y1="491.20" x2="808.20" y2="483.80" stroke="#000" stroke-width="1.75"/>
<line x1="879.80" y1="875.50" x2="879.80" y2="882.90" stroke="#000" stroke-width="1.75"/>
<line x1="879.80" y1="491.20" x2="879.80" y2="483.80" stroke="#000" stroke-width="1.75"/>
<line x1="951.40" y1="875.50" x2="951.40" y2="882.90" stroke="#000" stroke-width="1.75"/>
<line x1="951.40" y1="491.20" x2="951.40" y2="483.80" stroke="#000" stroke-width="1.75"/>
<line x1="593.40" y1="859.10" x2="586.00" y2="859.10" stroke="#000" stroke-width="1.75"/>
<line x1="982.60" y1="859.10" x2="990.00" y2="859.10" stroke="#000" stroke-width="1.75"/>
<line x1="593.40" y1="741.44" x2="586.00" y2="741.44" stroke="#000" stroke-width="1.75"/>
<line x1="982.60" y1="741.44" x2="990.00" y2="741.44" stroke="#000" stroke-width="1.75"/>
<line x1="593.40" y1="623.78" x2="586.00" y2="623.78" stroke="#000" stroke-width="1.75"/>
<line x1="982.60" y1="623.78" x2="990.00" y2="623.78" stroke="#000" stroke-width="1.75"/>
<line x1="593.40" y1="506.12" x2="586.00" y2="506.12" stroke="#000" stroke-width="1.75"/>
<line x1="982.60" y1="506.12" x2="990.00" y2="506.12" stroke="#000" stroke-width="1.75"/>
<text transform="matrix(0.28595,0,0,0.31851,31.400,386.733)" font-size="100">0.0</text>
<text transform="matrix(0.28595,0,0,0.31851,31.400,307.033)" font-size="100">0.5</text>
<text transform="matrix(0.28595,0,0,0.31851,31.400,227.492)" font-size="100">1.0</text>
<text transform="matrix(0.28595,0,0,0.31851,31.400,147.951)" font-size="100">1.5</text>
<text transform="matrix(0.28595,0,0,0.31851,31.400,67.933)" font-size="100">2.0</text>
<text transform="matrix(0.28595,0,0,0.31851,548.000,386.733)" font-size="100">0.0</text>
<text transform="matrix(0.28595,0,0,0.31851,548.572,289.603)" font-size="100">0.2</text>
<text transform="matrix(0.28595,0,0,0.31851,547.428,192.473)" font-size="100">0.4</text>
<text transform="matrix(0.28595,0,0,0.31851,547.714,95.343)" font-size="100">0.6</text>
<text transform="matrix(0.28595,0,0,0.31851,31.400,870.033)" font-size="100">0.0</text>
<text transform="matrix(0.28595,0,0,0.31851,31.400,777.398)" font-size="100">0.5</text>
<text transform="matrix(0.28595,0,0,0.31851,31.400,684.922)" font-size="100">1.0</text>
<text transform="matrix(0.28595,0,0,0.31851,31.400,592.446)" font-size="100">1.5</text>
<text transform="matrix(0.28595,0,0,0.31851,569.446,870.033)" font-size="100">0</text>
<text transform="matrix(0.28595,0,0,0.31851,570.018,752.691)" font-size="100">2</text>
<text transform="matrix(0.28595,0,0,0.31851,568.874,635.031)" font-size="100">4</text>
<text transform="matrix(0.28595,0,0,0.31851,569.160,517.053)" font-size="100">6</text>
<text transform="matrix(0.28595,0,0,0.31851,63.089,423.903)" font-size="100">40</text>
<text transform="matrix(0.28595,0,0,0.31851,195.989,424.221)" font-size="100">100</text>
<text transform="matrix(0.28595,0,0,0.31851,444.168,423.903)" font-size="100">500</text>
<text transform="matrix(0.28595,0,0,0.31851,571.110,423.903)" font-size="100">-2.0</text>
<text transform="matrix(0.28595,0,0,0.31851,649.760,424.221)" font-size="100">-1.5</text>
<text transform="matrix(0.28595,0,0,0.31851,728.410,424.221)" font-size="100">-1.0</text>
<text transform="matrix(0.28595,0,0,0.31851,807.060,423.903)" font-size="100">-0.5</text>
<text transform="matrix(0.28595,0,0,0.31851,890.428,423.903)" font-size="100">0.0</text>
<text transform="matrix(0.28595,0,0,0.31851,59.514,907.003)" font-size="100">0.2</text>
<text transform="matrix(0.28595,0,0,0.31851,124.342,907.003)" font-size="100">0.4</text>
<text transform="matrix(0.28595,0,0,0.31851,189.885,907.003)" font-size="100">0.6</text>
<text transform="matrix(0.28595,0,0,0.31851,255.428,907.003)" font-size="100">0.8</text>
<text transform="matrix(0.28595,0,0,0.31851,320.113,907.321)" font-size="100">1.0</text>
<text transform="matrix(0.28595,0,0,0.31851,385.799,907.321)" font-size="100">1.2</text>
<text transform="matrix(0.28595,0,0,0.31851,571.110,907.003)" font-size="100">-2.5</text>
<text transform="matrix(0.28595,0,0,0.31851,642.710,907.003)" font-size="100">-2.3</text>
<text transform="matrix(0.28595,0,0,0.31851,714.596,907.321)" font-size="100">-2.1</text>
<text transform="matrix(0.28595,0,0,0.31851,785.910,907.321)" font-size="100">-1.9</text>
<text transform="matrix(0.28595,0,0,0.31851,857.367,907.321)" font-size="100">-1.7</text>
<text transform="matrix(0.28595,0,0,0.31851,929.110,907.321)" font-size="100">-1.5</text>
<text transform="matrix(0.32500,0,0,0.31385,261.625,451.700)" font-size="100" font-style="italic">N</text>
<text transform="matrix(0.32340,0,0,0.27761,780.400,451.770)" font-size="100" font-style="italic">μ</text>
<text transform="matrix(0.30204,0,0,0.24615,263.194,934.654)" font-size="100" font-style="italic">σ</text>
<text transform="matrix(0.26290,0,0,0.28778,688.574,936.157)" font-size="100">log</text>
<text transform="matrix(0.19310,0,0,0.20294,722.362,942.794)" font-size="100">10</text>
<text transform="matrix(0.24231,0,0,0.32556,747.831,936.763)" font-size="100">(</text>
<text transform="matrix(0.35319,0,0,0.31493,757.847,936.270)" font-size="100" font-style="italic">S</text>
<text transform="matrix(0.22933,0,0,0.20143,774.371,940.599)" font-size="100">th</text>
<text transform="matrix(0.15333,0,0,0.25200,793.087,940.420)" font-size="100">,</text>
<text transform="matrix(0.28730,0,0,0.24474,797.351,943.247)" font-size="100">∞</text>
<text transform="matrix(0.38929,0,0,0.43939,820.000,943.161)" font-size="100">/</text>
<text transform="matrix(0.32553,0,0,0.28209,833.400,936.676)" font-size="100" font-style="italic">μ</text>
<text transform="matrix(0.30000,0,0,0.30758,850.700,936.292)" font-size="100">J</text>
<text transform="matrix(0.27551,0,0,0.27612,862.924,936.801)" font-size="100">y</text>
<text transform="matrix(0.23846,0,0,0.32667,878.585,936.840)" font-size="100">)</text>
<text transform="matrix(0,-0.27736,0.27794,0,22.163,249.336)" font-size="100" font-style="italic">p</text>
<text transform="matrix(0,-0.25000,0.31333,0,22.820,234.800)" font-size="100">(</text>
<text transform="matrix(0,-0.32361,0.30000,0,21.800,223.876)" font-size="100" font-style="italic">N</text>
<text transform="matrix(0,-0.29556,0.28913,0,22.500,185.604)" font-size="100" font-style="italic">x</text>
<text transform="matrix(0,-0.18333,0.19851,0,26.203,170.533)" font-size="100">0</text>
<text transform="matrix(0,-0.23077,0.31222,0,22.743,159.192)" font-size="100">)</text>
<text transform="matrix(0,-0.26604,0.27206,0,538.987,245.004)" font-size="100" font-style="italic">p</text>
<text transform="matrix(0,-0.23077,0.32111,0,539.357,230.023)" font-size="100">(</text>
<text transform="matrix(0,-0.31915,0.27612,0,539.201,220.400)" font-size="100" font-style="italic">μ</text>
<text transform="matrix(0,-0.30667,0.29130,0,539.600,190.193)" font-size="100" font-style="italic">x</text>
<text transform="matrix(0,-0.17857,0.20299,0,543.094,174.814)" font-size="100">0</text>
<text transform="matrix(0,-0.22692,0.31889,0,539.203,163.681)" font-size="100">)</text>
<text transform="matrix(0,-0.26792,0.27500,0,22.025,728.492)" font-size="100" font-style="italic">p</text>
<text transform="matrix(0,-0.24231,0.31222,0,22.743,713.269)" font-size="100">(</text>
<text transform="matrix(0,-0.31020,0.24423,0,22.156,704.331)" font-size="100" font-style="italic">σ</text>
<text transform="matrix(0,-0.30889,0.30217,0,22.800,673.191)" font-size="100" font-style="italic">x</text>
<text transform="matrix(0,-0.17143,0.19851,0,26.203,657.886)" font-size="100">0</text>
<text transform="matrix(0,-0.25385,0.31778,0,23.127,647.462)" font-size="100">)</text>
<text transform="matrix(0,-0.28491,0.27353,0,558.956,750.691)" font-size="100" font-style="italic">p</text>
<text transform="matrix(0,-0.26154,0.32667,0,559.840,735.646)" font-size="100">(</text>
<text transform="matrix(0,-0.36170,0.32090,0,559.358,725.762)" font-size="100" font-style="italic">S</text>
<text transform="matrix(0,-0.21600,0.19714,0,563.403,708.316)" font-size="100">th</text>
<text transform="matrix(0,-0.15333,0.22800,0,564.280,690.713)" font-size="100">,</text>
<text transform="matrix(0,-0.28889,0.24211,0,566.021,685.956)" font-size="100">∞</text>
<text transform="matrix(0,-0.30222,0.28478,0,559.800,650.998)" font-size="100" font-style="italic">x</text>
<text transform="matrix(0,-0.18333,0.20149,0,563.197,635.933)" font-size="100">0</text>
<text transform="matrix(0,-0.24615,0.32444,0,559.787,625.338)" font-size="100">)</text>
<rect x="0.80" y="190.60" width="28.30" height="1.2" fill="#000"/>
<rect x="517.20" y="194.80" width="28.70" height="1.2" fill="#000"/>
<rect x="0.70" y="678.00" width="28.40" height="1.2" fill="#000"/>
<rect x="537.40" y="655.80" width="29.20" height="1.2" fill="#000"/>
</svg></body></html>
